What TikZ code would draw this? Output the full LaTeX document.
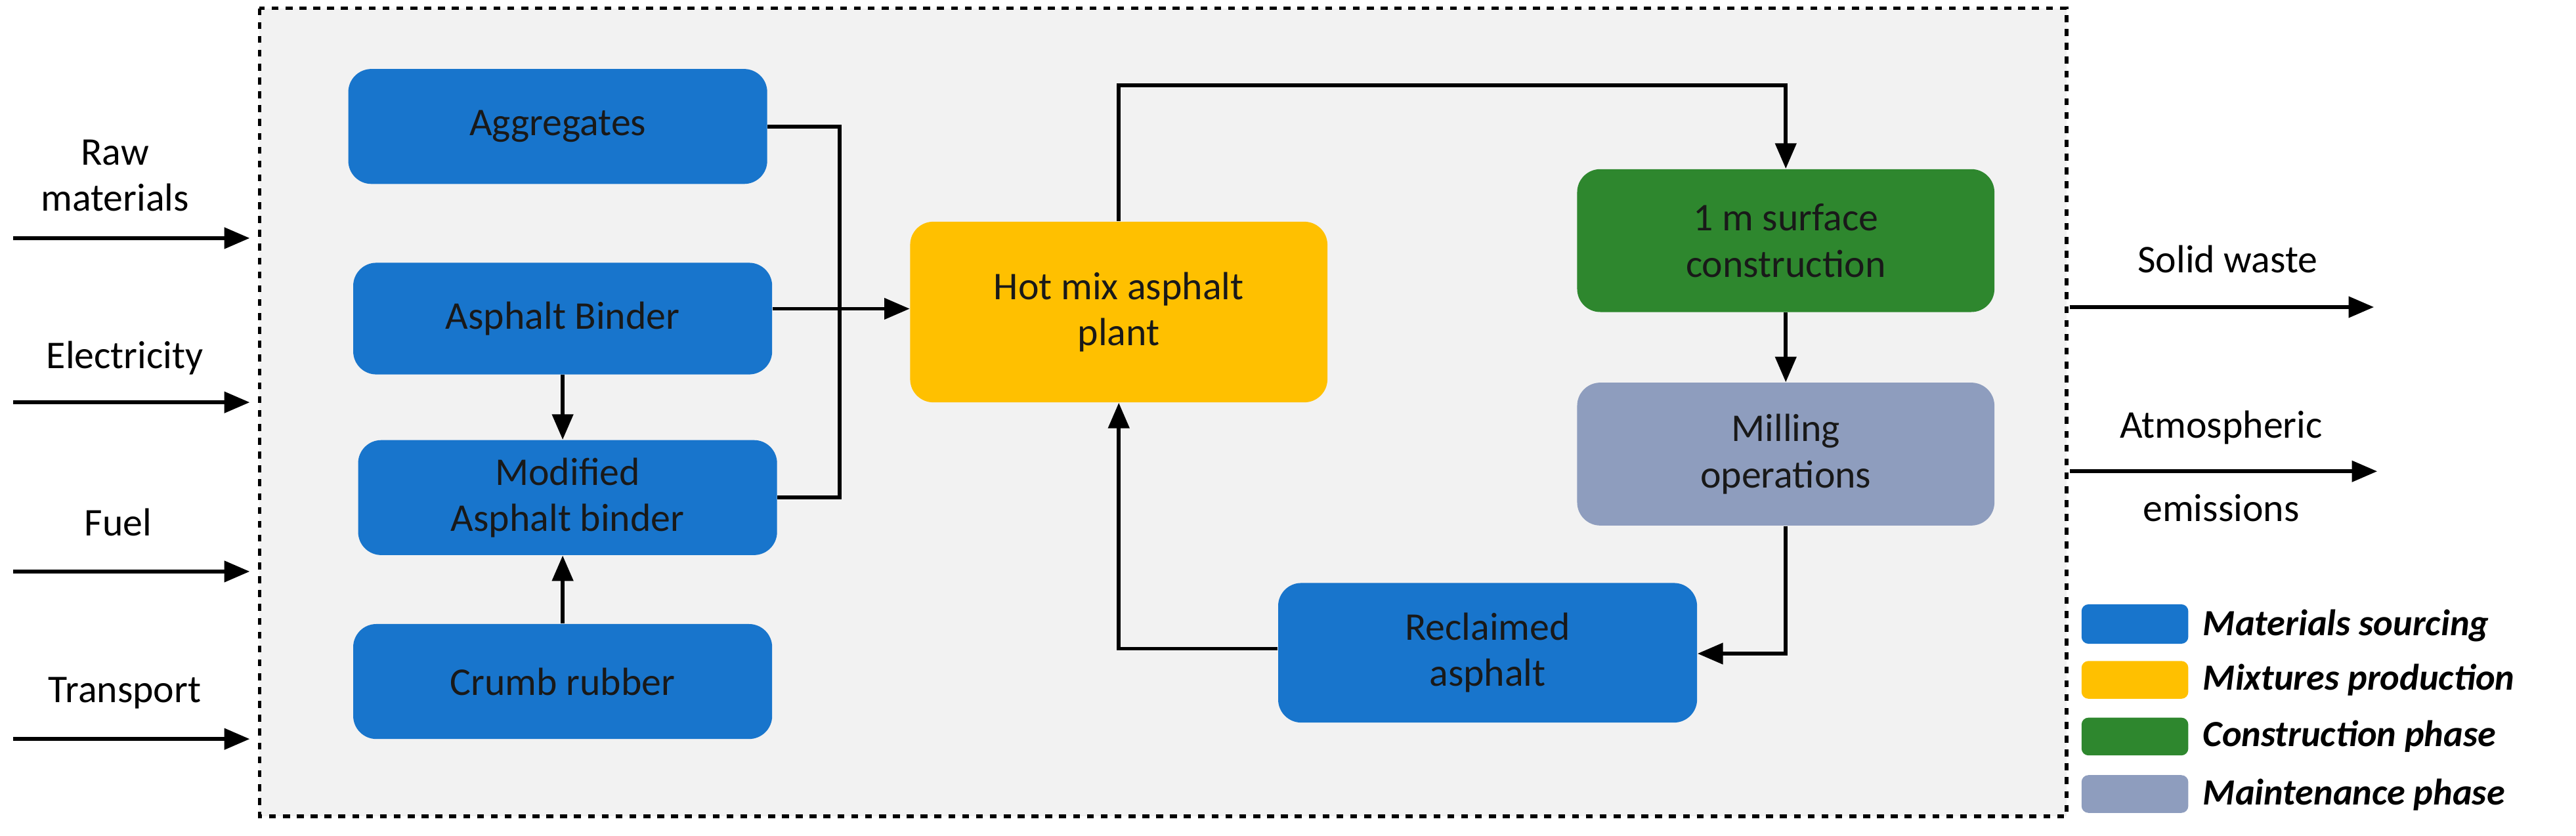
\documentclass[tikz,border=0pt]{standalone}
\usepackage{fontspec}
\setmainfont{Carlito}
\usetikzlibrary{arrows.meta}
\definecolor{mblue}{RGB}{24,117,204}
\definecolor{myel}{RGB}{255,192,0}
\definecolor{mgreen}{RGB}{46,135,46}
\definecolor{mgray}{RGB}{142,157,190}
\definecolor{bgg}{RGB}{242,242,242}
\begin{document}
\begin{tikzpicture}[x=0.025cm,y=-0.025cm,
  box/.style={rounded corners=10pt,draw=none,align=center,font=\fontsize{17}{20}\selectfont,text=black!90,inner sep=0pt},
  lab/.style={align=center,font=\fontsize{17}{20}\selectfont},
  leg/.style={anchor=west,font=\fontsize{16}{19}\selectfont\bfseries\itshape},
  arr/.style={line width=1.6pt,-{Triangle[length=11pt,width=9pt]}},
  ln/.style={line width=1.6pt}]
\useasboundingbox (0,0) rectangle (1568,509);
\draw[dashed,line width=1.6pt,fill=bgg] (158,5) rectangle (1258,497);
\node[box,fill=mblue,minimum width=255*0.025cm,minimum height=70*0.025cm] (agg) at (339.5,77) {Aggregates};
\node[box,fill=mblue,minimum width=255*0.025cm,minimum height=68*0.025cm] (ab) at (342.5,194) {Asphalt Binder};
\node[box,fill=mblue,minimum width=255*0.025cm,minimum height=70*0.025cm] (mab) at (345.5,303) {Modified\\Asphalt binder};
\node[box,fill=mblue,minimum width=255*0.025cm,minimum height=70*0.025cm] (cr) at (342.5,415) {Crumb rubber};
\node[box,fill=myel,minimum width=254*0.025cm,minimum height=110*0.025cm] (hma) at (681,190) {Hot mix asphalt\\plant};
\node[box,fill=mgreen,minimum width=254*0.025cm,minimum height=87*0.025cm] (sc) at (1087,146.5) {1 m surface\\construction};
\node[box,fill=mgray,minimum width=254*0.025cm,minimum height=87*0.025cm] (mo) at (1087,276.5) {Milling\\operations};
\node[box,fill=mblue,minimum width=255*0.025cm,minimum height=85*0.025cm] (ra) at (905.5,397.5) {Reclaimed\\asphalt};
% connectors
\coordinate (j) at (511,188);
\draw[ln] (agg.east |- 0,77) -| (j);
\draw[ln] (mab.east |- 0,303) -| (j);
\draw[arr] (ab.east |- 0,188) -- (hma.west |- 0,188);
\draw[arr] (ab.south) -- (ab.south |- mab.north);
\draw[arr] (cr.north) -- (cr.north |- mab.south);
\draw[arr] (hma.north) |- (1087,52) -- (sc.north);
\draw[arr] (sc.south) -- (mo.north);
\draw[arr] (mo.south) |- (ra.east |- 0,398);
\draw[arr] (ra.west |- 0,395) -| (hma.south);
% left inputs
\node[lab] (rm) at (70,107) {Raw\\materials};
\coordinate (rm1) at (8,145); \coordinate (rm2) at (152,145);
\draw[arr] (rm1) -- (rm2);
\node[lab] (el) at (76,218) {Electricity};
\coordinate (el1) at (8,245); \coordinate (el2) at (152,245);
\draw[arr] (el1) -- (el2);
\node[lab] (fu) at (72,318) {Fuel};
\coordinate (fu1) at (8,348); \coordinate (fu2) at (152,348);
\draw[arr] (fu1) -- (fu2);
\node[lab] (tr) at (76,422) {Transport};
\coordinate (tr1) at (8,450); \coordinate (tr2) at (152,450);
\draw[arr] (tr1) -- (tr2);
% outputs
\node[lab] (sw) at (1356,158) {Solid waste};
\coordinate (sw1) at (1260,187); \coordinate (sw2) at (1445,187);
\draw[arr] (sw1) -- (sw2);
\node[lab] (ae) at (1352,284) {Atmospheric\\\\[-4pt]emissions};
\coordinate (ae1) at (1260,287); \coordinate (ae2) at (1447,287);
\draw[arr] (ae1) -- (ae2);
% legend
\node[fill=mblue,rounded corners=3pt,minimum width=65*0.025cm,minimum height=24*0.025cm] (l1) at (1299.5,380) {};
\node[fill=myel,rounded corners=3pt,minimum width=65*0.025cm,minimum height=23*0.025cm] (l2) at (1299.5,414) {};
\node[fill=mgreen,rounded corners=3pt,minimum width=65*0.025cm,minimum height=23*0.025cm] (l3) at (1299.5,448.5) {};
\node[fill=mgray,rounded corners=3pt,minimum width=65*0.025cm,minimum height=23*0.025cm] (l4) at (1299.5,483.5) {};
\node[leg] at (1336,381) {Materials sourcing};
\node[leg] at (1336,414) {Mixtures production};
\node[leg] at (1336,448.5) {Construction phase};
\node[leg] at (1336,484) {Maintenance phase};
\end{tikzpicture}
\end{document}
